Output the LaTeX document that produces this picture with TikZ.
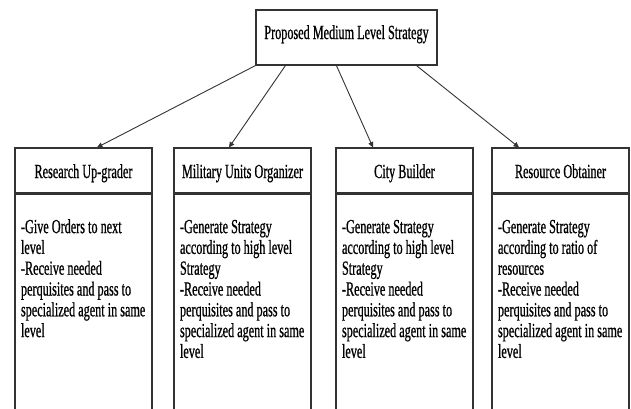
\documentclass[tikz,border=0pt]{standalone}
\usepackage{fontspec}
\setmainfont{Liberation Serif}[FakeStretch=0.61,FakeBold=0.7]
\usepackage{tikz}
\usetikzlibrary{arrows.meta}

\newcommand{\agenttext}[1]{\parbox[t][230pt][t]{125pt}{\rule{0pt}{39pt}#1}}

\begin{document}
\begin{tikzpicture}[x=1pt,y=-1pt]
  \tikzset{topbox/.style = {shape=rectangle,draw=black!80,line width=1.1pt,minimum width=181pt,minimum height=55pt,inner sep=0pt,text height=11pt,text depth=8pt}}
  \tikzset{headbox/.style = {shape=rectangle,draw=black!80,line width=1.1pt,minimum width=137pt,minimum height=45pt,inner sep=0pt,text height=15pt,text depth=0pt}}
  \tikzset{bodybox/.style = {shape=rectangle,draw=black!80,line width=1.1pt,anchor=north,minimum width=137pt,inner xsep=6pt,inner ysep=0pt}}
  \tikzset{%
  tipA/.tip={Triangle[angle=50:6pt]},
  }
  \tikzset{edge/.style = {-tipA,draw=black!80,line width=0.9pt}}
  \fontsize{20}{20.8}\selectfont
  \spaceskip=0.17em plus 0.05em

  \clip (0,0) rectangle (631,408);

	\node[topbox] (PMS) at (346.5,37.5) {Proposed Medium Level Strategy};

	\node[headbox] (RU) at (83.5,170.5) {Research Up-grader};
	\node[headbox] (MU) at (242.5,170.5) {Military Units Organizer};
	\node[headbox] (CB) at (404.5,170.5) {City Builder};
	\node[headbox] (RO) at (560.5,170.5) {Resource Obtainer};

	\node[bodybox] (RUb) at (RU.south) {\agenttext{-Give Orders to next\\level\\-Receive needed\\perquisites and pass to\\specialized agent in same\\level}};
	\node[bodybox] (MUb) at (MU.south) {\agenttext{-Generate Strategy\\according to high level\\Strategy\\-Receive needed\\perquisites and pass to\\specialized agent in same\\level}};
	\node[bodybox] (CBb) at (CB.south) {\agenttext{-Generate Strategy\\according to high level\\Strategy\\-Receive needed\\perquisites and pass to\\specialized agent in same\\level}};
	\node[bodybox] (ROb) at (RO.south) {\agenttext{-Generate Strategy\\according to ratio of\\resources\\-Receive needed\\perquisites and pass to\\specialized agent in same\\level}};

    \foreach \from/\sx/\to/\ex in {PMS/0/RU/13.5, PMS/30/MU/-13.5, PMS/81/CB/-31.5, PMS/161/RO/-41.5}
    \draw[edge] ([xshift=\sx pt]\from.south west) -- ([xshift=\ex pt]\to.north);

\end{tikzpicture}
\end{document}
